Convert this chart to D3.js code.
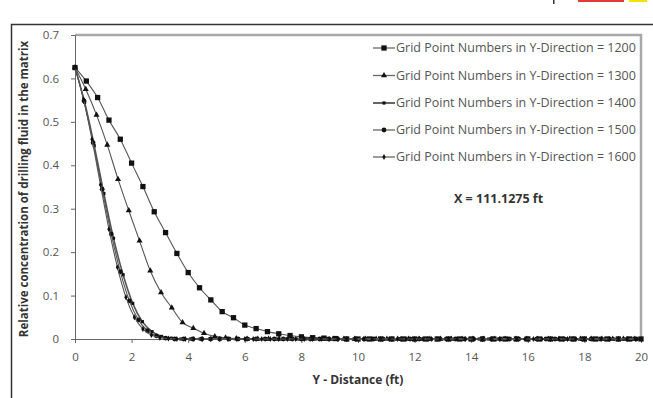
<!DOCTYPE html>
<html>
<head>
<meta charset="utf-8">
<script src="https://cdn.jsdelivr.net/npm/d3@7"></script>
<style>
  body { margin: 0; background: #fff; }
  svg { display: block; font-family: "Open Sans", Lato, sans-serif; }
</style>
</head>
<body>
<svg id="chart"></svg>
<script>
// data
const seriesNames = ['1200', '1300', '1400', '1500', '1600'];
const xSteps = [0.4, 0.38, 0.34, 0.32, 0.30];

const y1200 = [0.625, 0.594, 0.556, 0.504, 0.460, 0.405, 0.351, 0.293, 0.245, 0.197,
  0.153, 0.118, 0.090, 0.063, 0.049, 0.032, 0.024, 0.017, 0.012, 0.008,
  0.005, 0.003, 0.002, 0.001, 0, 0, 0, 0, 0, 0,
  0, 0, 0, 0, 0, 0, 0, 0, 0, 0,
  0, 0, 0, 0, 0, 0, 0, 0, 0, 0, 0];
const y1300 = [0.625, 0.575, 0.516, 0.447, 0.368, 0.296, 0.226, 0.157, 0.107, 0.072,
  0.038, 0.025, 0.013, 0.006, 0.003, 0.001, 0, 0, 0, 0,
  0, 0, 0, 0, 0, 0, 0, 0, 0, 0,
  0, 0, 0, 0, 0, 0, 0, 0, 0, 0,
  0, 0, 0, 0, 0, 0, 0, 0, 0, 0, 0, 0, 0];
const y1400 = [0.625, 0.545, 0.445, 0.335, 0.232, 0.148, 0.082, 0.040, 0.017, 0.006,
  0.002, 0, 0, 0, 0, 0, 0, 0, 0, 0,
  0, 0, 0, 0, 0, 0, 0, 0, 0, 0,
  0, 0, 0, 0, 0, 0, 0, 0, 0, 0,
  0, 0, 0, 0, 0, 0, 0, 0, 0, 0,
  0, 0, 0, 0, 0, 0, 0, 0, 0];
const y1500 = [0.625, 0.548, 0.452, 0.345, 0.242, 0.155, 0.088, 0.044, 0.019, 0.007,
  0.002, 0, 0, 0, 0, 0, 0, 0, 0, 0,
  0, 0, 0, 0, 0, 0, 0, 0, 0, 0,
  0, 0, 0, 0, 0, 0, 0, 0, 0, 0,
  0, 0, 0, 0, 0, 0, 0, 0, 0, 0,
  0, 0, 0, 0, 0, 0, 0, 0, 0, 0, 0, 0, 0];
const y1600 = [0.625, 0.552, 0.460, 0.355, 0.253, 0.165, 0.096, 0.050, 0.023, 0.009,
  0.003, 0.001, 0, 0, 0, 0, 0, 0, 0, 0,
  0, 0, 0, 0, 0, 0, 0, 0, 0, 0,
  0, 0, 0, 0, 0, 0, 0, 0, 0, 0,
  0, 0, 0, 0, 0, 0, 0, 0, 0, 0,
  0, 0, 0, 0, 0, 0, 0, 0, 0, 0,
  0, 0, 0, 0, 0, 0, 0];

const xTicks = [0, 2, 4, 6, 8, 10, 12, 14, 16, 18, 20];
const yTicks = [0, 0.1, 0.2, 0.3, 0.4, 0.5, 0.6, 0.7];

// canvas
let w = 653;
let h = 398;
let svg = d3.select('#chart').attr('width', w).attr('height', h);

let padL = 75, padR = 641, padT = 35, padB = 339;

let xScale = d3.scaleLinear().domain([0, 20]).range([padL, padR]);
let yScale = d3.scaleLinear().domain([0, 0.7]).range([padB, padT]);

// little coloured bits on the top edge
svg.append('rect').attr('x', 578).attr('y', 0).attr('width', 46).attr('height', 2).attr('fill', '#e53935');
svg.append('rect').attr('x', 629).attr('y', 0).attr('width', 18).attr('height', 2).attr('fill', '#f5e400');
svg.append('rect').attr('x', 553).attr('y', 0).attr('width', 1.5).attr('height', 4).attr('fill', '#333');

// outer frame
svg.append('path').attr('d', `M11.5,398 V24.5 H653`).attr('fill', 'none').attr('stroke', '#333').attr('stroke-width', 1.5);

// plot border top / right
svg.append('path').attr('d', `M${padL},${padT} H${padR} V${padB}`)
  .attr('fill', 'none').attr('stroke', '#a8a8a8').attr('stroke-width', 2.5);

// axes
let xAxis = d3.axisBottom(xScale).tickValues(xTicks).tickSize(4).tickPadding(10).tickFormat(d3.format('d'));
let yAxis = d3.axisLeft(yScale).tickValues(yTicks).tickSize(4).tickPadding(12).tickFormat(d => d === 0 ? '0' : d3.format('.1f')(d));

let gx = svg.append('g').attr('transform', `translate(0,${padB})`).call(xAxis);
let gy = svg.append('g').attr('transform', `translate(${padL},0)`).call(yAxis);

[gx, gy].forEach(g => {
  g.select('.domain').attr('stroke', '#666');
  g.selectAll('.tick line').attr('stroke', '#666');
  g.selectAll('.tick text').attr('fill', '#555').attr('font-size', 11.5).attr('font-family', '"Open Sans", sans-serif');
});

// axis titles
svg.append('text')
  .attr('x', (padL + padR) / 2).attr('y', 384)
  .attr('text-anchor', 'middle')
  .attr('font-size', 12).attr('font-weight', 'bold').attr('fill', '#333')
  .text('Y - Distance  (ft)');

svg.append('text')
  .attr('transform', `translate(28,189) rotate(-90)`)
  .attr('text-anchor', 'middle')
  .attr('font-size', 11.5).attr('font-weight', 'bold').attr('fill', '#333')
  .text('Relative concentration  of drilling fluid in the matrix');

// series
let allY = [y1200, y1300, y1400, y1500, y1600];
let symbols = [
  d3.symbol().type(d3.symbolSquare).size(28),
  d3.symbol().type(d3.symbolTriangle).size(16),
  d3.symbol().type(d3.symbolSquare).size(10),
  d3.symbol().type(d3.symbolCircle).size(18),
  d3.symbol().type(d3.symbolDiamond).size(10)
];

let line = d3.line().x(d => xScale(d.x)).y(d => yScale(d.y)).curve(d3.curveMonotoneX);

let series = allY.map((ys, i) => ys.map((v, j) => ({ x: +(j * xSteps[i]).toFixed(3), y: v })).filter(d => d.x <= 20));

series.forEach((pts, i) => {
  svg.append('path').datum(pts)
    .attr('d', line)
    .attr('fill', 'none')
    .attr('stroke', '#555')
    .attr('stroke-width', i === 2 ? 1.6 : 1.1);

  svg.append('g').selectAll('path')
    .data(pts)
    .enter()
    .append('path')
    .attr('d', symbols[i])
    .attr('transform', d => `translate(${xScale(d.x)},${yScale(d.y)})`)
    .attr('fill', '#111');
});

// legend
let legendY = [48, 75.5, 103, 130, 157];
let legend = svg.append('g');
seriesNames.forEach((name, i) => {
  let g = legend.append('g').attr('transform', `translate(373,${legendY[i]})`);
  g.append('line').attr('x1', 0).attr('x2', 22).attr('y1', 0).attr('y2', 0)
    .attr('stroke', '#666').attr('stroke-width', i === 2 ? 2 : 1.3);
  g.append('path').attr('d', symbols[i]).attr('transform', 'translate(11,0)').attr('fill', '#111');
  g.append('text').attr('x', 23).attr('y', 4)
    .attr('font-size', 12.5).attr('fill', '#555')
    .text('Grid Point Numbers in Y-Direction = ' + name);
});

// annotation
svg.append('text')
  .attr('x', 454).attr('y', 203)
  .attr('font-size', 12.5).attr('font-weight', 'bold').attr('fill', '#333')
  .text('X = 111.1275 ft');
</script>
</body>
</html>
